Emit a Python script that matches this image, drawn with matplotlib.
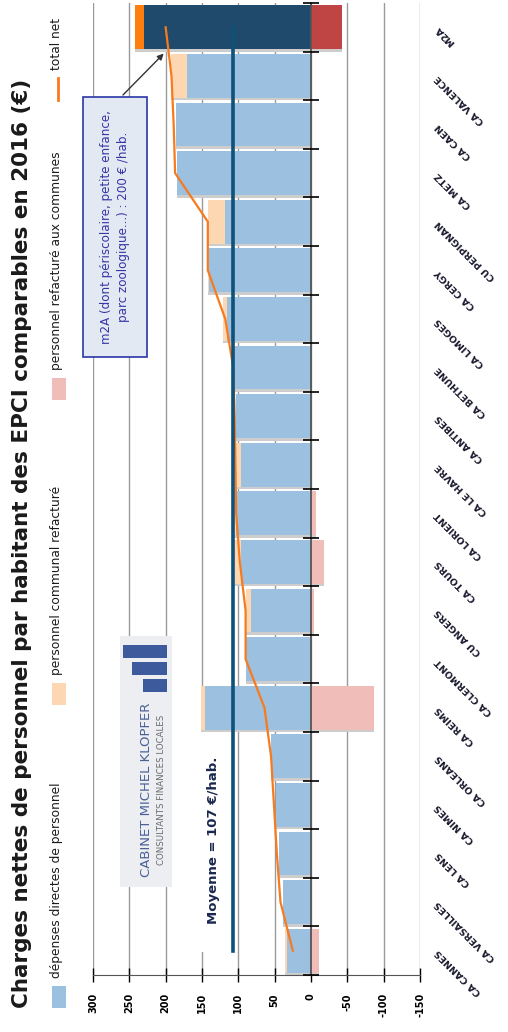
import numpy as np
import matplotlib.pyplot as plt
from matplotlib.patches import Rectangle
from matplotlib.lines import Line2D
import matplotlib.transforms as mtransforms

# EPCI, du plus faible au plus fort (de bas en haut)
categories = ["CA CANNES", "CA VERSAILLES", "CA LENS", "CA NIMES", "CA ORLEANS",
              "CA REIMS", "CA CLERMONT", "CU ANGERS", "CA TOURS", "CA LORIENT",
              "CA LE HAVRE", "CA ANTIBES", "CA BETHUNE", "CA LIMOGES", "CA CERGY",
              "CU PERPIGNAN", "CA METZ", "CA CAEN", "CA VALENCE", "M2A"]
direct = [33, 38, 44, 48, 55, 146, 89, 82, 97, 103,
          96, 103, 107, 115, 140, 118, 184, 186, 170, 230]
communal = [3, 0, 0, 0, 0, 5, 0, 7, 12, 6,
            7, 0, 0, 6, 2, 24, 0, 0, 22, 12]
refacture = [-11, 0, 0, 0, 0, -87, 0, -4, -18, -7,
             0, 0, 0, 0, 0, 0, 0, 0, 0, -43]
total_net = [25, 42, 47, 51, 55, 64, 90, 90, 98, 103,
             104, 105, 107, 118, 142, 142, 187, 189, 192, 200]
moyenne = 107
value_ticks = [300, 250, 200, 150, 100, 50, 0, -50, -100, -150]

W, H = 508, 1032
fig = plt.figure(figsize=(W / 100, H / 100), dpi=100)


def fx(x):
    return x / W


def fy(y):
    return 1 - y / H


ax = fig.add_axes([fx(93), fy(975), fx(420) - fx(93), (975 - 3) / H])
pos = np.arange(len(categories))
hl = [c == "M2A" for c in categories]

c_direct = ["#1f4a6b" if h else "#9cc0e0" for h in hl]
c_comm = ["#ff7f0e" if h else "#fcd7b1" for h in hl]
c_ref = ["#bf4444" if h else "#f0bdb8" for h in hl]

d = np.array(direct)
c = np.array(communal)
r = np.array(refacture)

# ombres des barres
ax.barh(pos - 0.055, d + c, height=0.9, color="#cdcdcd", zorder=1.6)
ax.barh(pos - 0.055, r, height=0.9, color="#cdcdcd", zorder=1.6)

ax.barh(pos, d, height=0.9, color=c_direct, zorder=2)
ax.barh(pos, c, left=d, height=0.9, color=c_comm, zorder=2)
ax.barh(pos, r, height=0.9, color=c_ref, zorder=2)

ax.plot(total_net, pos, color="#f77b1e", lw=1.6, zorder=3)
ax.plot([moyenne, moyenne], [pos[0], pos[-1]], color="#0e5179", lw=2.6, zorder=3)

ax.set_xlim(300, -150)
ax.set_ylim(-0.5, len(categories) - 0.5)
ax.set_xticks(value_ticks)
ax.set_xticklabels([str(v) for v in value_ticks], rotation=90,
                   fontsize=7, fontweight="bold")
ax.tick_params(axis="x", direction="inout", length=10, width=1, pad=8)
ax.set_yticks(np.arange(-0.5, len(categories), 1.0))
ax.set_yticklabels([])
ax.tick_params(axis="y", direction="inout", length=12, width=1.2, color="black")

ax.set_axisbelow(True)
ax.grid(axis="x", color="#9a9a9a", lw=1)
ax.yaxis.set_zorder(4)
for s in ["top", "right"]:
    ax.spines[s].set_visible(False)
ax.spines["left"].set_position(("data", 0))
ax.spines["left"].set_color("#555555")
ax.spines["left"].set_linewidth(1.3)
ax.spines["left"].set_zorder(4)
ax.spines["bottom"].set_color("#555555")

# noms des EPCI en oblique
trans = mtransforms.blended_transform_factory(ax.transAxes, ax.transData)
for i, name in enumerate(categories):
    ax.text(1.052, i, name, transform=trans, rotation=135, rotation_mode="anchor",
            ha="right", va="center", fontsize=6.8, fontweight="bold",
            color="#1a1a2e", clip_on=False)

# cache blanc derriere la moyenne
ax.add_patch(Rectangle((fx(195), fy(952)), fx(232) - fx(195), (952 - 730) / H,
                       transform=fig.transFigure, facecolor="white",
                       edgecolor="none", zorder=1.5))
fig.text(fx(213), fy(840), "Moyenne = 107 \u20ac/hab.", rotation=90,
         ha="center", va="center", fontsize=9.5, fontweight="bold", color="#1a2850")

# encadre m2A
fig.add_artist(Rectangle((fx(83), fy(357)), fx(147) - fx(83), (357 - 97) / H,
                         transform=fig.transFigure, facecolor="#e3e9f3",
                         edgecolor="#2a36a8", lw=1.2, zorder=5))
fig.text(fx(115), fy(227),
         "m2A (dont p\u00e9riscolaire, petite enfance,\nparc zoologique...) : 200 \u20ac /hab.",
         rotation=90, ha="center", va="center", fontsize=8.6, color="#3535a5",
         linespacing=1.35, zorder=6)
ax.annotate("", xy=(total_net[-1], len(categories) - 1.5), xycoords="data",
            xytext=(121, H - 97), textcoords="figure pixels",
            arrowprops=dict(arrowstyle="-|>", color="#333333", lw=1,
                            mutation_scale=9), zorder=6)

# logo
fig.add_artist(Rectangle((fx(120), fy(887)), fx(172) - fx(120), (887 - 636) / H,
                         transform=fig.transFigure, facecolor="#eceef2",
                         edgecolor="none", zorder=5))
for x0, y0, y1 in [(123, 645, 658), (132, 662, 675), (143, 679, 692)]:
    fig.add_artist(Rectangle((fx(x0), fy(y1)), fx(167) - fx(x0), (y1 - y0) / H,
                             transform=fig.transFigure, facecolor="#3d5a9c",
                             edgecolor="none", zorder=6))
fig.text(fx(147), fy(790), "CABINET MICHEL KLOPFER", rotation=90, ha="center",
         va="center", fontsize=9.5, color="#4a6198", zorder=7)
fig.text(fx(161), fy(790), "CONSULTANTS FINANCES LOCALES", rotation=90,
         ha="center", va="center", fontsize=6.2, color="#6a6a6a", zorder=7)

# titre
fig.text(fx(22), fy(543),
         "Charges nettes de personnel par habitant des EPCI comparables en 2016 (\u20ac)",
         rotation=90, ha="center", va="center", fontsize=15.5, fontweight="bold",
         color="#1a1a1a")

# legende
leg = [("d\u00e9penses directes de personnel", "#9cc0e0", 1008, "box"),
       ("personnel communal refactur\u00e9", "#fcd7b1", 705, "box"),
       ("personnel refactur\u00e9 aux communes", "#f0bdb8", 400, "box"),
       ("total net", "#f77b1e", 100, "line")]
for label, col, ybot, kind in leg:
    if kind == "box":
        fig.add_artist(Rectangle((fx(52), fy(ybot)), fx(66) - fx(52), 22 / H,
                                 transform=fig.transFigure, facecolor=col,
                                 edgecolor="none"))
    else:
        fig.add_artist(Line2D([fx(58), fx(58)], [fy(ybot), fy(ybot - 22)],
                              transform=fig.transFigure, color=col, lw=2))
    fig.text(fx(57), fy(ybot - 30), label, rotation=90, ha="center", va="bottom",
             fontsize=8.8, color="#1a1a1a")

fig.savefig("out.png", dpi=100)
